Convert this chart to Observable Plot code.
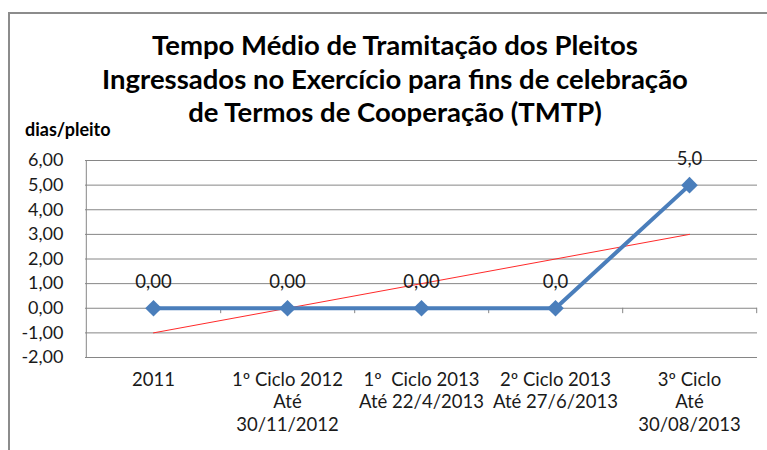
<!DOCTYPE html>
<html>
<head>
<meta charset="utf-8">
<script src="https://cdn.jsdelivr.net/npm/d3@7"></script>
<script src="https://cdn.jsdelivr.net/npm/@observablehq/plot@0.6"></script>
<style>
  body { margin: 0; background: #fff; }
  #wrap { position: relative; width: 767px; height: 450px; overflow: hidden; font-family: Lato, "Open Sans", sans-serif; }
  #border { position: absolute; left: 8px; top: 12px; width: 800px; height: 500px; border-left: 2px solid #8c8c8c; border-top: 2px solid #8c8c8c; }
  #title { position: absolute; left: 0; width: 790px; top: 28px; text-align: center; font-weight: bold; font-size: 27.5px; line-height: 33.5px; color: #000; }
  #ylabel { position: absolute; left: 25px; top: 118px; font-weight: bold; font-size: 18px; color: #000; }
  #chart { position: absolute; left: 0; top: 0; }
  #chart svg text { white-space: pre; }
</style>
</head>
<body>
<div id="wrap">
  <div id="border"></div>
  <div id="chart"></div>
  <div id="title">Tempo Médio de Tramitação dos Pleitos<br>Ingressados no Exercício para fins de celebração<br>de Termos de Cooperação (TMTP)</div>
  <div id="ylabel">dias/pleito</div>
</div>
<script>
const categories = [
  "2011",
  "1º Ciclo 2012\nAté\n30/11/2012",
  "1º  Ciclo 2013\nAté 22/4/2013",
  "2º Ciclo 2013\nAté 27/6/2013",
  "3º Ciclo\nAté\n30/08/2013"
];
const values = [0, 0, 0, 0, 5];
const valueLabels = ["0,00", "0,00", "0,00", "0,0", "5,0"];
const trendCategories = [categories[0], categories[4]];
const trendValues = [-1, 3];
const yTicks = [-2, -1, 0, 1, 2, 3, 4, 5, 6];

const data = categories.map((c, i) => ({cat: c, v: values[i], label: valueLabels[i]}));
const trend = trendCategories.map((c, i) => ({cat: c, v: trendValues[i]}));

const W = 767, H = 450, mL = 85, mR = 10, mT = 160, mB = 93;
const step = (W - mL - mR) / categories.length;
const grid = "#868686";
const blue = "#4a7ebb";

const chart = Plot.plot({
  width: W, height: H,
  marginLeft: mL, marginRight: mR, marginTop: mT, marginBottom: mB,
  x: {type: "point", domain: categories, padding: 0.5, label: null},
  y: {domain: [-2, 6], label: null},
  style: {fontFamily: "Lato, 'Open Sans', sans-serif", fontSize: "18px", color: "#1a1a1a", background: "transparent"},
  marks: [
    Plot.ruleY(yTicks, {stroke: grid, strokeOpacity: 1}),
    Plot.ruleX([categories[0]], {dx: -step / 2, y1: -2, y2: 6, stroke: grid, strokeOpacity: 1}),
    Plot.ruleX(categories, {dx: step / 2, y1: 0, y2: -0.22, stroke: grid, strokeOpacity: 1}),
    Plot.line(trend, {x: "cat", y: "v", stroke: "#ff2a2a", strokeWidth: 1}),
    Plot.line(data, {x: "cat", y: "v", stroke: blue, strokeWidth: 4}),
    Plot.dot(data, {x: "cat", y: "v", symbol: "diamond2", r: 7.5, fill: blue, stroke: "none"}),
    Plot.text(data, {x: "cat", y: "v", text: "label", dy: -26, fontSize: 18.5, fill: "#1a1a1a"}),
    Plot.axisY({ticks: yTicks, tickSize: 0, tickPadding: 22, fontSize: 18, label: null,
      tickFormat: d => d.toFixed(2).replace(".", ",")}),
    Plot.axisX({tickSize: 0, tickPadding: 13, lineAnchor: "top", fontSize: 18.5, lineHeight: 1.2, label: null})
  ]
});
document.getElementById("chart").appendChild(chart);
</script>
</body>
</html>
